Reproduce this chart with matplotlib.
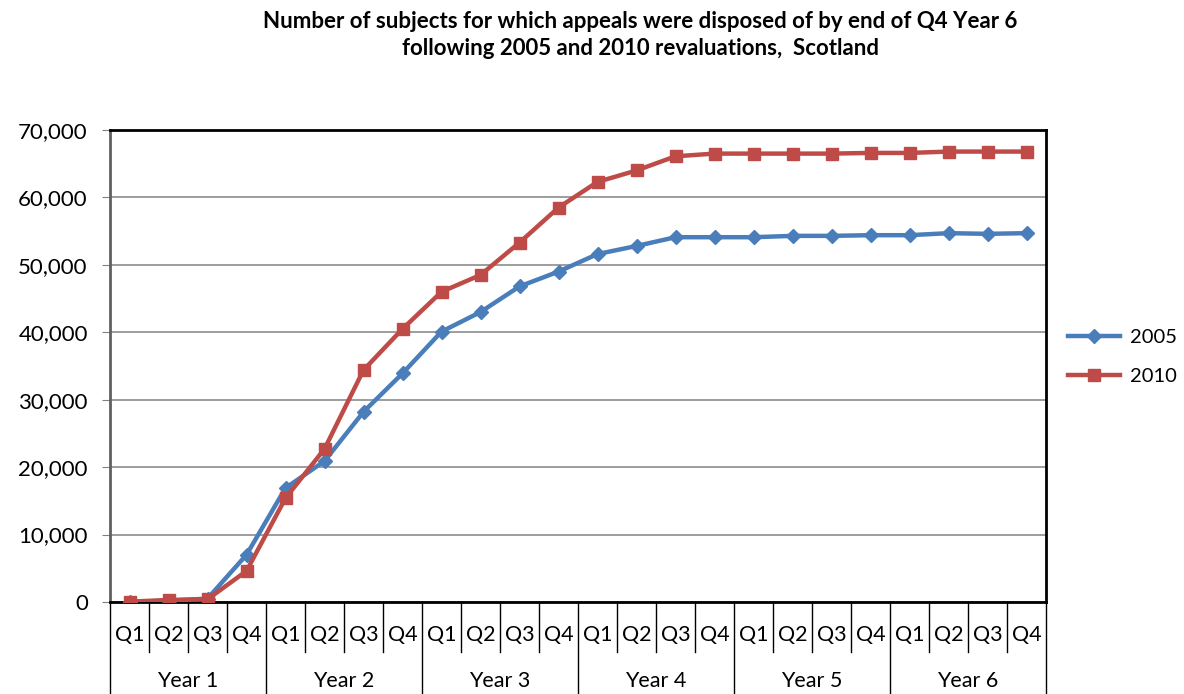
import matplotlib
matplotlib.use("Agg")
from matplotlib import pyplot as plt
from matplotlib.transforms import blended_transform_factory

plt.rcParams['font.family'] = ['Lato', 'DejaVu Sans']

# data
years = ["Year 1", "Year 2", "Year 3", "Year 4", "Year 5", "Year 6"]
quarters = ["Q1", "Q2", "Q3", "Q4"]
series_2005 = [0, 200, 500, 7000, 16900, 20900, 28200, 33900,
               40100, 43000, 46800, 49000, 51600, 52800, 54100, 54100,
               54100, 54300, 54300, 54400, 54400, 54700, 54600, 54700]
series_2010 = [50, 300, 400, 4600, 15400, 22700, 34400, 40500,
               46000, 48500, 53300, 58500, 62300, 64000, 66100, 66500,
               66500, 66500, 66500, 66600, 66600, 66800, 66800, 66800]

x = list(range(len(series_2005)))

fig = plt.figure(figsize=(11.84, 6.94), dpi=100)
ax = fig.add_axes([110 / 1184, 92 / 694, 936 / 1184, 472 / 694])

ax.plot(x, series_2005, color="#4A7EBB", lw=3.2, marker="D", ms=7.5, label="2005", zorder=3)
ax.plot(x, series_2010, color="#BE4B48", lw=3.2, marker="s", ms=9, label="2010", zorder=4)

ax.set_xlim(-0.5, len(x) - 0.5)
ax.set_ylim(0, 70000)
ax.set_yticks(range(0, 70001, 10000))
ax.set_yticklabels([f"{v:,}" for v in range(0, 70001, 10000)], fontsize=16)
ax.tick_params(axis="y", length=6, color="#808080", pad=10)
ax.yaxis.grid(True, color="#8C8C8C", lw=1.2)
ax.set_axisbelow(True)
ax.set_xticks([])

for side in ["top", "right", "bottom"]:
    ax.spines[side].set_color("black")
    ax.spines[side].set_linewidth(2)
ax.spines["left"].set_color("#606060")
ax.spines["left"].set_linewidth(2)

# category axis: quarter and year labels with separators
tr = blended_transform_factory(ax.transData, ax.transAxes)
q_y = -33 / 472
yr_y = -79 / 472
for i in range(len(x) + 1):
    pos = i - 0.5
    bottom = -92 / 472 if i % 4 == 0 else -50 / 472
    ax.plot([pos, pos], [0, bottom], transform=tr, color="black", lw=1, clip_on=False)
for i in x:
    ax.text(i, q_y, quarters[i % 4], transform=tr, ha="center", va="center", fontsize=15.5)
for j, yr in enumerate(years):
    ax.text(j * 4 + 1.5, yr_y, yr, transform=tr, ha="center", va="center", fontsize=15.5)

fig.legend(loc="center left", bbox_to_anchor=(1060 / 1184, 1 - 357 / 694), frameon=False,
           borderaxespad=0, fontsize=14.5, handlelength=2.6, handletextpad=0.5,
           labelspacing=1.1)

fig.text(640 / 1184, 1 - 35 / 694,
         "Number of subjects for which appeals were disposed of by end of Q4 Year 6\n"
         "following 2005 and 2010 revaluations,  Scotland",
         ha="center", va="center", fontsize=16, fontweight="bold", linespacing=1.35)

fig.savefig("out.png", dpi=100)
